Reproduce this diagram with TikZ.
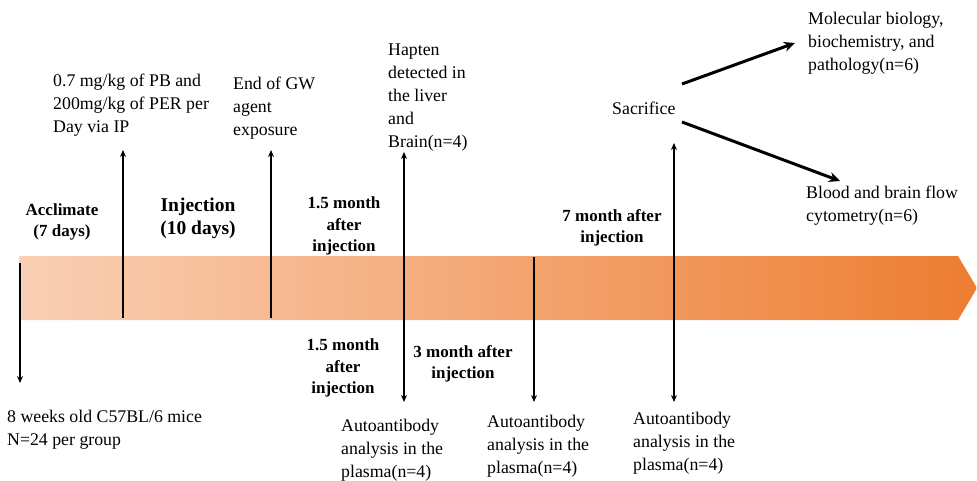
\documentclass[tikz,border=0pt]{standalone}
\usepackage{fontspec}
\setmainfont{Liberation Serif}
\usetikzlibrary{arrows.meta}
\definecolor{barL}{RGB}{250,208,182}
\definecolor{barR}{RGB}{237,125,49}
\begin{document}
\begin{tikzpicture}[x=1pt,y=-1pt,
 txt/.style={inner sep=0pt,align=left,anchor=west,font=\fontsize{17.8}{23}\selectfont},
 lbl/.style={inner sep=0pt,align=center,font=\fontsize{17}{21.5}\selectfont\bfseries},
 varrow/.style={line width=1.8pt,-{Stealth[length=7pt,width=6pt]}},
 vboth/.style={line width=1.8pt,{Stealth[length=7pt,width=6pt]}-{Stealth[length=7pt,width=6pt]}},
 vline/.style={line width=1.8pt},
 darrow/.style={line width=3pt,-{Stealth[length=11pt,width=10pt]}}]
\useasboundingbox (0,0) rectangle (977,481);
% timeline bar
\shade[left color=barL,right color=barR] (19,256) -- (958,256) -- (977,288) -- (958,320) -- (19,320) -- cycle;
% coordinates
\coordinate (a1t) at (20,263); \coordinate (a1b) at (20,383);
\coordinate (a2b) at (123,318); \coordinate (a2t) at (123,150);
\coordinate (a3b) at (271,318); \coordinate (a3t) at (271,150);
\coordinate (a4t) at (404,152); \coordinate (a4b) at (404,402);
\coordinate (a5t) at (534,257); \coordinate (a5b) at (534,402);
\coordinate (a6t) at (674,143); \coordinate (a6b) at (674,402);
\draw[varrow] (a1t) -- (a1b);
\draw[varrow] (a2b) -- (a2t);
\draw[varrow] (a3b) -- (a3t);
\draw[vboth] (a4t) -- (a4b);
\draw[varrow] (a5t) -- (a5b);
\draw[vboth] (a6t) -- (a6b);
% top texts
\node[txt] (pb) at (53,105) {0.7 mg/kg of PB and\\200mg/kg of PER per\\Day via IP};
\node[txt] (gw) at (233,108) {End of GW\\agent\\exposure};
\node[txt] (hap) at (388,98) {Hapten\\detected in\\the liver\\and\\Brain(n=4)};
% bold labels
\node[lbl] (accl) at (62,222) {Acclimate\\(7 days)};
\node[lbl,font=\fontsize{19.5}{23}\selectfont\bfseries] (inj) at (198,218) {Injection\\(10 days)};
\node[lbl] (m15a) at (344,226) {1.5 month\\after\\injection};
\node[lbl] (m7) at (612,228) {7 month after\\injection};
\node[lbl] (m15b) at (343,368) {1.5 month\\after\\injection};
\node[lbl] (m3) at (463,364) {3 month after\\injection};
% bottom texts
\node[txt] (mice) at (7,430) {8 weeks old C57BL/6 mice\\N=24 per group};
\node[txt] (auto1) at (341,450) {Autoantibody\\analysis in the\\plasma(n=4)};
\node[txt] (auto2) at (487,446) {Autoantibody\\analysis in the\\plasma(n=4)};
\node[txt] (auto3) at (633,443) {Autoantibody\\analysis in the\\plasma(n=4)};
% sacrifice branch
\node[txt] (sac) at (612,108) {Sacrifice};
\node[txt] (mol) at (808,43) {Molecular biology,\\biochemistry, and\\pathology(n=6)};
\node[txt] (blood) at (806,206) {Blood and brain flow\\cytometry(n=6)};
\coordinate (s1) at (682,84); \coordinate (s1e) at (795,43);
\coordinate (s2) at (682,122); \coordinate (s2e) at (840,181);
\draw[darrow] (s1) -- (s1e);
\draw[darrow] (s2) -- (s2e);
\end{tikzpicture}
\end{document}
